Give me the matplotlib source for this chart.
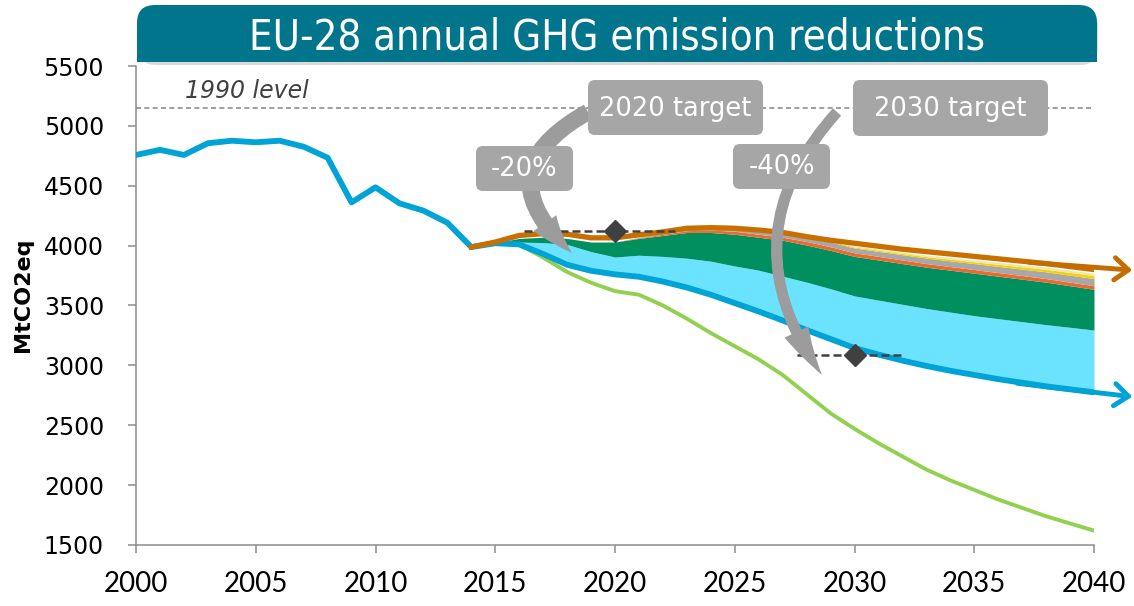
import numpy as np
import matplotlib.pyplot as plt
from matplotlib.patches import FancyBboxPatch, FancyArrowPatch, Rectangle

# historical emissions (MtCO2eq)
hist_years = list(range(2000, 2015))
hist_vals = [4757, 4800, 4757, 4855, 4876, 4863, 4876, 4826, 4734, 4361,
             4487, 4353, 4292, 4191, 3988]

# projections
proj_years = list(range(2014, 2041))
wem_line = [3988, 4030, 4085, 4100, 4095, 4065, 4065, 4090, 4115, 4145,
            4150, 4145, 4130, 4110, 4075, 4045, 4020, 3995, 3970, 3950,
            3930, 3910, 3890, 3870, 3850, 3825, 3800]
wam_line = [3988, 4020, 4010, 3930, 3840, 3790, 3760, 3740, 3700, 3650,
            3590, 3520, 3450, 3375, 3295, 3220, 3145, 3090, 3040, 2995,
            2955, 2920, 2885, 2855, 2825, 2800, 2775]
cyan_top = [3988, 4025, 4030, 4025, 4010, 3950, 3905, 3920, 3910, 3895,
            3870, 3830, 3795, 3745, 3695, 3640, 3580, 3545, 3510, 3475,
            3445, 3415, 3390, 3365, 3340, 3318, 3295]
green_top = [3988, 4025, 4060, 4070, 4060, 4030, 4030, 4060, 4085, 4110,
             4110, 4095, 4070, 4045, 4005, 3960, 3910, 3880, 3850, 3820,
             3795, 3770, 3745, 3720, 3695, 3665, 3635]
red_band = [0, 0, 0, 0, 0, 0, 0, 5, 10, 15, 20, 25, 25, 25, 30, 30, 30, 30,
            30, 30, 30, 30, 30, 30, 30, 30, 30]
grey_band = [0, 0, 0, 0, 0, 0, 0, 5, 10, 10, 15, 20, 25, 30, 35, 40, 40, 42,
             44, 46, 48, 50, 52, 54, 56, 58, 60]
yellow_band = [0, 0, 0, 0, 0, 0, 0, 0, 0, 0, 0, 0, 3, 5, 6, 7, 8, 10, 11,
               12, 14, 15, 17, 19, 21, 23, 25]
beige_band = [0, 0, 0, 0, 0, 0, 0, 0, 5, 5, 5, 8, 8, 8, 10, 10, 10, 11, 12,
              13, 14, 15, 16, 17, 18, 19, 20]

low_years = list(range(2016, 2041))
low_line = [4010, 3900, 3780, 3690, 3620, 3590, 3500, 3390, 3270, 3160,
            3050, 2920, 2760, 2600, 2470, 2350, 2240, 2130, 2040, 1960,
            1880, 1810, 1740, 1680, 1620]

level_1990 = 5150
target_years = [2020, 2030]
target_vals = [4120, 3090]
target_spans = [(2016.2, 2022.5), (2027.6, 2032.1)]

W, H = 1134, 606
fig = plt.figure(figsize=(W / 100, H / 100), dpi=100)
ax = fig.add_axes([136 / W, 1 - 545 / H, (1094 - 136) / W, (545 - 66) / H])

py = np.array(proj_years)
b0 = np.array(wam_line)
b1 = np.array(cyan_top)
b2 = np.array(green_top)
b3 = b2 + np.array(red_band)
b4 = b3 + np.array(grey_band)
b5 = b4 + np.array(yellow_band)
b6 = b5 + np.array(beige_band)
ax.fill_between(py, b0, b1, color='#6BE3FF', lw=0, zorder=1)
ax.fill_between(py, b1, b2, color='#008F5F', lw=0, zorder=1)
ax.fill_between(py, b2, b3, color='#EE6A2C', lw=0, zorder=1)
ax.fill_between(py, b3, b4, color='#A8A8A8', lw=0, zorder=1)
ax.fill_between(py, b4, b5, color='#F5D300', lw=0, zorder=1)
ax.fill_between(py, b5, b6, color='#F2E4B0', lw=0, zorder=1)

ax.axhline(level_1990, color='#8C8C8C', lw=1.2, ls=(0, (3, 2)), zorder=0)
ax.text(2002.05, 5290, '1990 level', style='italic', color='#404040',
        fontsize=17, va='center', ha='left')

ax.plot(low_years, low_line, color='#92D050', lw=2.8, zorder=3,
        solid_joinstyle='round')
blue_x = hist_years + proj_years[1:]
blue_y = hist_vals + wam_line[1:]
ax.plot(blue_x, blue_y, color='#00A3D6', lw=4.2, zorder=4,
        solid_joinstyle='round', solid_capstyle='round')
ax.plot(proj_years, wem_line, color='#C96F00', lw=3.8, zorder=5,
        solid_joinstyle='round')

# continuation arrows on the right
ax.annotate('', xy=(2041.6, 3795), xytext=(2037.3, 3860),
            arrowprops=dict(arrowstyle='->,head_length=0.5,head_width=0.4',
                            color='#C46C00', lw=3.5, mutation_scale=20,
                            shrinkA=0, shrinkB=0),
            annotation_clip=False, zorder=6)
ax.annotate('', xy=(2041.6, 2738), xytext=(2036.8, 2850),
            arrowprops=dict(arrowstyle='->,head_length=0.5,head_width=0.4',
                            color='#00A3D6', lw=3.5, mutation_scale=20,
                            shrinkA=0, shrinkB=0),
            annotation_clip=False, zorder=6)

for (x0, x1), tv in zip(target_spans, target_vals):
    ax.plot([x0, x1], [tv, tv], color='#404040', lw=1.8,
            ls=(0, (3.2, 1.6)), zorder=7)
ax.plot(target_years, target_vals, 'D', color='#404040', ms=11, zorder=8)

ax.set_xlim(2000, 2040)
ax.set_ylim(1500, 5500)
ax.set_xticks(range(2000, 2041, 5))
ax.set_yticks(range(1500, 5501, 500))
for s in ['top', 'right']:
    ax.spines[s].set_visible(False)
for s in ['left', 'bottom']:
    ax.spines[s].set_color('#8C8C8C')
    ax.spines[s].set_linewidth(1.1)
ax.tick_params(axis='both', color='#8C8C8C', width=1.1, length=6)
ax.tick_params(axis='y', labelsize=17, pad=17)
ax.tick_params(axis='x', labelsize=20, pad=13)
for lab in ax.get_xticklabels():
    lab.set_family('Lato')
ax.set_ylabel('MtCO2eq', fontsize=16, fontweight='bold')
ax.yaxis.set_label_coords(-0.108, 0.522)

# overlay in pixel coordinates for title box and target call-outs
ov = fig.add_axes([0, 0, 1, 1], zorder=10)
ov.set_xlim(0, W)
ov.set_ylim(H, 0)
ov.axis('off')
ov.patch.set_visible(False)

ov.add_patch(FancyBboxPatch((138, 8), 960, 57, boxstyle='round,pad=0,rounding_size=18',
                            fc='#D9D9D9', ec='none', zorder=1))
ov.add_patch(FancyBboxPatch((137, 5), 960, 57, boxstyle='round,pad=0,rounding_size=18',
                            fc='#00758B', ec='none', zorder=2))
ov.add_patch(Rectangle((137, 35), 960, 27, fc='#00758B', ec='none', zorder=2))
ov.text(617, 38, 'EU-28 annual GHG emission reductions', color='white',
        fontsize=30, fontstretch='condensed', ha='center', va='center', zorder=3)

ov.add_patch(FancyArrowPatch((588, 112), (572, 253), connectionstyle='arc3,rad=0.7',
                             arrowstyle='simple,head_length=29,head_width=20,tail_width=12',
                             mutation_scale=1, shrinkA=0, shrinkB=0,
                             fc='#9C9C9C', ec='none', zorder=1))
ov.add_patch(FancyArrowPatch((837, 112), (822, 375), connectionstyle='arc3,rad=0.4',
                             arrowstyle='simple,head_length=36,head_width=19,tail_width=8',
                             mutation_scale=1, shrinkA=0, shrinkB=0,
                             fc='#9C9C9C', ec='none', zorder=1))

boxes = [((588, 80, 175, 55), '2020 target'), ((476, 146, 97, 45), '-20%'),
         ((853, 80, 195, 56), '2030 target'), ((733, 144, 97, 45), '-40%')]
for (bx, by, bw, bh), txt in boxes:
    ov.add_patch(FancyBboxPatch((bx, by), bw, bh, boxstyle='round,pad=0,rounding_size=7',
                                fc='#A6A6A6', ec='none', zorder=2))
    ov.text(bx + bw / 2, by + bh / 2 + 1, txt, color='white', fontsize=18.5,
            ha='center', va='center', zorder=3)

fig.savefig('out.png', dpi=100)
